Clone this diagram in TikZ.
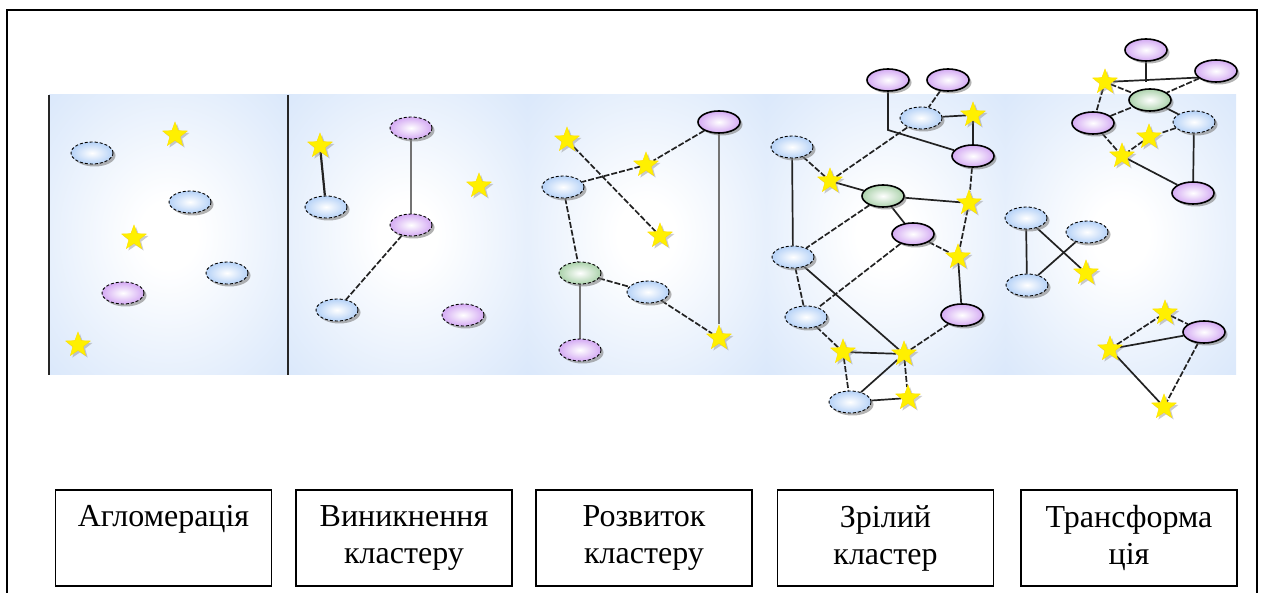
\documentclass[tikz,border=0pt]{standalone}
\usepackage{fontspec}
\setmainfont{Liberation Serif}
\usetikzlibrary{shapes.geometric,shadows}

\definecolor{bandblue}{RGB}{204,223,249}
\definecolor{nblue}{RGB}{182,210,247}
\definecolor{npurple}{RGB}{212,170,243}
\definecolor{ngreen}{RGB}{172,210,172}
\definecolor{starfill}{RGB}{255,240,0}
\definecolor{linkc}{RGB}{34,34,34}

% soft glow used for each stage panel
\pgfdeclareradialshading{panelglow}{\pgfpoint{0bp}{0bp}}{%
  color(0bp)=(white); color(6bp)=(white);
  color(28bp)=(bandblue!55!white); color(48bp)=(bandblue);
  color(100bp)=(bandblue)}

\pgfdeclarelayer{bg}
\pgfdeclarelayer{edges}
\pgfsetlayers{bg,edges,main}

\begin{document}
\begin{tikzpicture}[x=1pt,y=-1pt,
  cell/.style={ellipse, minimum width=42pt, minimum height=22pt, inner sep=0pt,
    drop shadow={shadow xshift=2.5pt, shadow yshift=-2.5pt, opacity=0.6}},
  bcell/.style={cell, draw=black, densely dashed, line width=0.9pt,
    inner color=white, outer color=nblue},
  pcell/.style={cell, draw=black, line width=1.6pt,
    inner color=white, outer color=npurple},
  pcelld/.style={cell, draw=black, densely dashed, line width=0.9pt,
    inner color=white, outer color=npurple},
  gcell/.style={cell, draw=black, line width=1.6pt,
    inner color=white, outer color=ngreen},
  gcelld/.style={cell, draw=black, densely dashed, line width=0.9pt,
    inner color=white, outer color=ngreen},
  starn/.style={star, star points=5, star point ratio=2.4, minimum size=26pt,
    inner sep=0pt, fill=starfill, draw=starfill!85!orange, line width=0.4pt,
    drop shadow={shadow xshift=2pt, shadow yshift=-2pt, opacity=0.4}},
  link/.style={draw=linkc, line width=1.7pt},
  dlink/.style={link, dash pattern=on 6pt off 2pt},
  glink/.style={draw=black!55, line width=1.4pt},
  stage/.style={draw=black, line width=1.8pt, minimum width=216pt,
    minimum height=96pt, align=center, inner sep=0pt,
    font=\fontsize{32}{37}\selectfont}
]
\useasboundingbox (0,0) rectangle (1264,593);

% outer frame
\draw[line width=2pt] (7,593) -- (7,10) -- (1257,10) -- (1257,593);

% stage panels
\begin{pgfonlayer}{bg}
  \shade[shading=panelglow] (49,95) rectangle (288,375);
  \shade[shading=panelglow] (288,95) rectangle (527,375);
  \shade[shading=panelglow] (527,95) rectangle (766,375);
  \shade[shading=panelglow] (766,95) rectangle (1005,375);
  \shade[shading=panelglow] (1005,95) rectangle (1236,375);
  \draw[line width=2pt, black!85] (49,95) -- (49,375);
  \draw[line width=2pt, black!85] (288,95) -- (288,375);
\end{pgfonlayer}

% --- stage 1: agglomeration
\node[bcell]  (a1) at (92,153) {};
\node[starn]  (as1) at (175,135) {};
\node[bcell]  (a2) at (190,202) {};
\node[starn]  (as2) at (134,238) {};
\node[bcell]  (a3) at (227,273) {};
\node[pcelld] (a4) at (123,293) {};
\node[starn]  (as3) at (78,345) {};

% --- stage 2: emergence
\node[starn]  (bs1) at (320,146) {};
\node[bcell]  (b1) at (326,207) {};
\node[pcelld] (b2) at (411,128) {};
\node[pcelld] (b3) at (411,225) {};
\node[starn]  (bs2) at (479,186) {};
\node[bcell]  (b4) at (337,310) {};
\node[pcelld] (b5) at (463,315) {};

% --- stage 3: development
\node[pcell]  (c1) at (719,122) {};
\node[starn]  (cs1) at (567,140) {};
\node[starn]  (cs2) at (646,165) {};
\node[bcell]  (c2) at (563,187) {};
\node[starn]  (cs3) at (660,236) {};
\node[gcelld] (c3) at (580,273) {};
\node[bcell]  (c4) at (648,292) {};
\node[starn]  (cs4) at (719,338) {};
\node[pcelld] (c5) at (580,350) {};

% --- stage 4: mature cluster
\node[pcell] (d1) at (888,80) {};
\node[pcell] (d2) at (948,80) {};
\node[bcell] (d3) at (921,118) {};
\node[starn] (ds1) at (973,115) {};
\node[pcell] (d4) at (973,156) {};
\node[bcell] (d5) at (792,147) {};
\node[starn] (ds2) at (830,181) {};
\node[gcell] (d6) at (883,196) {};
\node[starn] (ds3) at (969,203) {};
\node[pcell] (d7) at (913,234) {};
\node[starn] (ds4) at (958,257) {};
\node[bcell] (d8) at (793,257) {};
\node[bcell] (d9) at (806,317) {};
\node[pcell] (d10) at (962,315) {};
\node[starn] (ds5) at (843,352) {};
\node[starn] (ds6) at (904,354) {};
\node[bcell] (d11) at (850,402) {};
\node[starn] (ds7) at (908,398) {};
\coordinate (dj) at (888,130);

% --- stage 5: transformation
\node[pcell] (e1) at (1146,50) {};
\node[pcell] (e2) at (1216,71) {};
\node[starn] (es1) at (1105,82) {};
\node[gcell] (e3) at (1150,100) {};
\node[pcell] (e4) at (1093,123) {};
\node[bcell] (e5) at (1194,122) {};
\node[starn] (es2) at (1149,137) {};
\node[starn] (es3) at (1122,156) {};
\node[pcell] (e6) at (1193,193) {};
\node[bcell] (e7) at (1026,218) {};
\node[bcell] (e8) at (1087,232) {};
\node[bcell] (e9) at (1027,285) {};
\node[starn] (es4) at (1086,273) {};
\node[starn] (es5) at (1165,313) {};
\node[pcell] (e10) at (1204,332) {};
\node[starn] (es6) at (1110,349) {};
\node[starn] (es7) at (1164,407) {};

% connectors
\begin{pgfonlayer}{edges}
  % stage 2
  \draw[link, line width=2.2pt] (bs1) -- (b1);
  \draw[glink] (b2) -- (b3);
  \draw[dlink] (b3) -- (b4);
  % stage 3
  \draw[dlink] (c1) -- (cs2);
  \draw[dlink] (cs2) -- (c2);
  \draw[dlink] (cs1) -- (cs3);
  \draw[dlink] (c2) -- (c3);
  \draw[glink] (c3) -- (c5);
  \draw[dlink] (c3) -- (c4);
  \draw[dlink] (c4) -- (cs4);
  \draw[glink] (c1) -- (cs4);
  % stage 4
  \draw[link] (d1) -- (dj) -- (d4);
  \draw[dlink] (ds2) -- (d3);
  \draw[dlink] (d2) -- (d3);
  \draw[link] (d3) -- (ds1);
  \draw[link] (ds1) -- (d4);
  \draw[dlink] (d5) -- (ds2);
  \draw[link] (ds2) -- (d6);
  \draw[link] (d5) -- (d8);
  \draw[link] (d6) -- (ds3);
  \draw[dlink] (d4) -- (ds3);
  \draw[link] (d6) -- (d7);
  \draw[dlink] (d6) -- (d8);
  \draw[dlink] (d7) -- (ds4);
  \draw[dlink] (ds3) -- (ds4);
  \draw[link] (ds4) -- (d10);
  \draw[dlink] (d7) -- (d9);
  \draw[dlink] (d8) -- (d9);
  \draw[link] (d8) -- (ds6);
  \draw[dlink] (d9) -- (ds5);
  \draw[link] (ds5) -- (ds6);
  \draw[dlink] (ds6) -- (d10);
  \draw[dlink] (ds5) -- (d11);
  \draw[link] (ds6) -- (d11);
  \draw[dlink] (ds6) -- (ds7);
  \draw[link] (d11) -- (ds7);
  % stage 5
  \draw[link] (es1) -- (e2.200);
  \draw[link] (e1) -- (e1 |- es1);
  \draw[dlink] (es1) -- (e3);
  \draw[dlink] (e2) -- (e3);
  \draw[dlink] (es1) -- (e4);
  \draw[dlink] (e4) -- (e3);
  \draw[link] (e3) -- (e5);
  \draw[dlink] (e5) -- (es2);
  \draw[dlink] (es2) -- (es3);
  \draw[dlink] (e4) -- (es3);
  \draw[link] (es3) -- (e6);
  \draw[link] (e5) -- (e6);
  \draw[link] (e7) -- (e9);
  \draw[link] (e7) -- (es4);
  \draw[link] (e9) -- (e8);
  \draw[dlink] (es6) -- (es5);
  \draw[link] (es6) -- (e10);
  \draw[dlink] (es5) -- (e10);
  \draw[link] (es6) -- (es7);
  \draw[dlink] (e10) -- (es7);
\end{pgfonlayer}

% stage labels
\node[stage] (l1) at (163.5,538) {Агломерація\\\phantom{кластеру}};
\node[stage] (l2) at (404,538)   {Виникнення\\кластеру};
\node[stage] (l3) at (644,538)   {Розвиток\\кластеру};
\node[stage] (l4) at (885.5,538) {Зрілий\\кластер};
\node[stage] (l5) at (1129,538)  {Трансформа\\ція};
\end{tikzpicture}
\end{document}
